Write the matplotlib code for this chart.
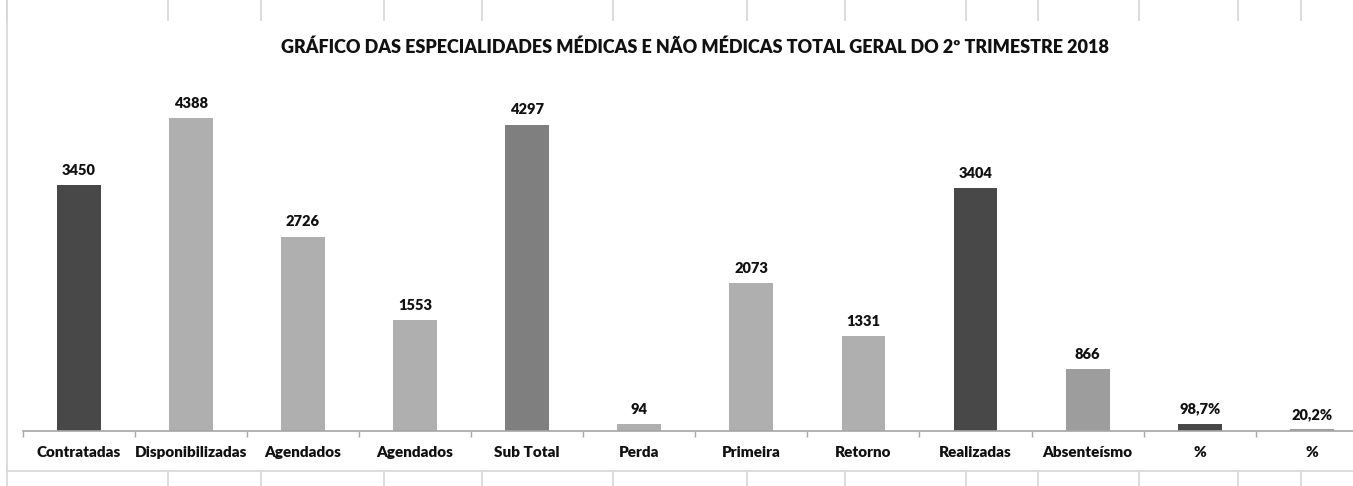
import matplotlib
matplotlib.use("Agg")
import matplotlib.pyplot as plt
from matplotlib.lines import Line2D
from matplotlib.ticker import FixedLocator

categories = ["Contratadas", "Disponibilizadas", "Agendados", "Agendados", "Sub Total",
              "Perda", "Primeira", "Retorno", "Realizadas", "Absenteísmo", "%", "%"]
values = [3450, 4388, 2726, 1553, 4297, 94, 2073, 1331, 3404, 866, 98.7, 20.2]
value_labels = ["3450", "4388", "2726", "1553", "4297", "94", "2073", "1331",
                "3404", "866", "98,7%", "20,2%"]
bar_colors = ["#484848", "#afafaf", "#afafaf", "#afafaf", "#7f7f7f", "#afafaf",
              "#afafaf", "#afafaf", "#484848", "#9d9d9d", "#484848", "#9d9d9d"]
title = "GRÁFICO DAS ESPECIALIDADES MÉDICAS E NÃO MÉDICAS TOTAL GERAL DO 2º TRIMESTRE 2018"

W, H = 1353, 486
fig = plt.figure(figsize=(W / 100, H / 100), dpi=100)
FONT = ["Lato", "DejaVu Sans"]
WEIGHT = "heavy"

ax_left, ax_right = 22.7, 22.7 + 12 * 112.1
ax_base, ax_top = 430.7, 430.7 - 5000 * 0.07119
ax = fig.add_axes([ax_left / W, (H - ax_base) / H, (ax_right - ax_left) / W, (ax_base - ax_top) / H])

x = list(range(len(categories)))
ax.bar(x, values, width=0.39, color=bar_colors, zorder=2)
ax.set_xlim(-0.5, len(categories) - 0.5)
ax.set_ylim(0, 5000)

for xi, v, lab in zip(x, values, value_labels):
    ax.annotate(lab, (xi, v), xytext=(0, 6), textcoords="offset points",
                ha="center", va="bottom", fontsize=10.5, fontweight=WEIGHT,
                family=FONT, color="#111111")

for s in ["top", "right", "left"]:
    ax.spines[s].set_visible(False)
ax.spines["bottom"].set_color("#a6a6a6")
ax.spines["bottom"].set_linewidth(1.2)
ax.set_yticks([])
ax.set_xticks(x)
ax.set_xticklabels(categories, fontsize=11, fontweight=WEIGHT, family=FONT, color="#111111")
ax.tick_params(axis="x", which="major", length=0, pad=11)
ax.xaxis.set_minor_locator(FixedLocator([i - 0.5 for i in range(len(categories) + 1)]))
ax.tick_params(axis="x", which="minor", length=4, color="#a6a6a6", width=1)
ax.patch.set_alpha(0)

fig.text(695 / W, 1 - 47 / H, title, ha="center", va="center", fontsize=13,
         fontweight=WEIGHT, family=FONT, color="#111111")

grid_c = "#d9d9d9"
cols = [7, 168, 261, 384, 482, 613, 747, 845, 966, 1038, 1139, 1238, 1301]
for cx in cols:
    fig.add_artist(Line2D([cx / W, cx / W], [1, 1 - 20 / H], color=grid_c, lw=1.3))
    fig.add_artist(Line2D([cx / W, cx / W], [1 - 471 / H, 0], color=grid_c, lw=1.3))
fig.add_artist(Line2D([7 / W, 7 / W], [1, 1 - 471 / H], color=grid_c, lw=1.3))
fig.add_artist(Line2D([7 / W, 1], [1 - 471 / H, 1 - 471 / H], color=grid_c, lw=1.3))

fig.savefig("out.png", dpi=100)
